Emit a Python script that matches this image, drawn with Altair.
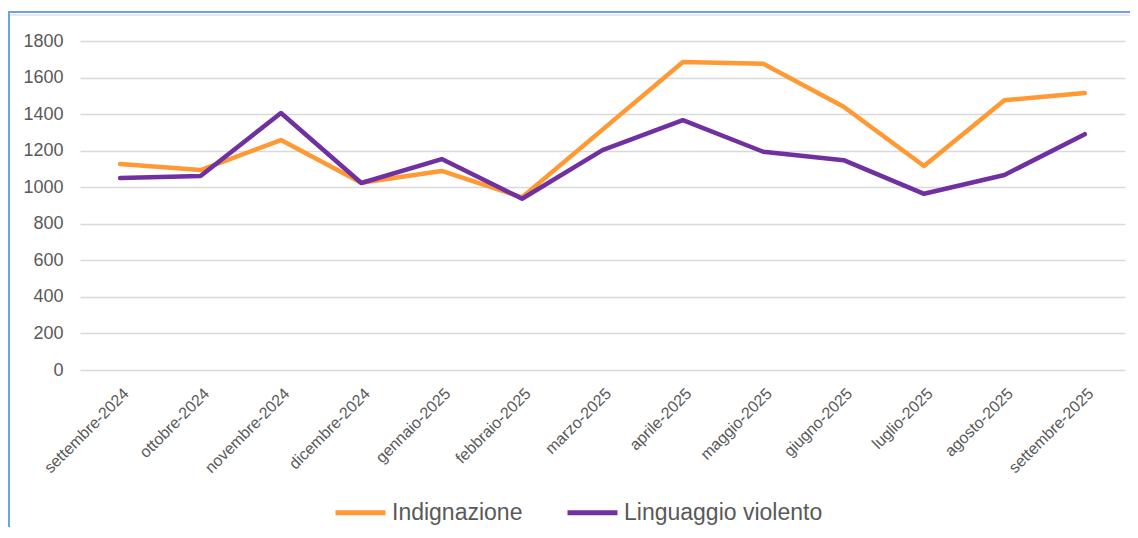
import altair as alt
import pandas as pd

months = ["settembre-2024", "ottobre-2024", "novembre-2024", "dicembre-2024",
          "gennaio-2025", "febbraio-2025", "marzo-2025", "aprile-2025",
          "maggio-2025", "giugno-2025", "luglio-2025", "agosto-2025",
          "settembre-2025"]
indignazione = [1127, 1094, 1258, 1025, 1089, 945, 1315, 1685, 1676, 1440, 1116, 1476, 1515]
linguaggio = [1050, 1061, 1406, 1023, 1154, 937, 1203, 1367, 1194, 1148, 964, 1067, 1290]
series = ["Indignazione", "Linguaggio violento"]
colors = ["#FF9933", "#7030A0"]

rows = []
for m, a, b in zip(months, indignazione, linguaggio):
    rows.append({"mese": m, "serie": series[0], "valore": a})
    rows.append({"mese": m, "serie": series[1], "valore": b})
df = pd.DataFrame(rows)

lines = alt.Chart(df).mark_line(strokeWidth=4.5, strokeCap="round", strokeJoin="round").encode(
    x=alt.X("mese:N", sort=months, title=None,
            axis=alt.Axis(labelAngle=-45, labelFontSize=16, labelColor="#595959",
                          labelFont="Liberation Sans", domain=False, ticks=False,
                          grid=False, labelPadding=15)),
    y=alt.Y("valore:Q", title=None, scale=alt.Scale(domain=[0, 1800], nice=False),
            axis=alt.Axis(values=list(range(0, 1801, 200)), format="d", labelFontSize=18,
                          labelColor="#595959", labelFont="Liberation Sans",
                          domain=False, ticks=False, labelPadding=17,
                          gridColor="#D9D9D9", gridWidth=1.5)),
    color=alt.Color("serie:N", scale=alt.Scale(domain=series, range=colors),
                    legend=alt.Legend(title=None, orient="none", direction="horizontal",
                                      legendX=253, legendY=444, symbolType="stroke",
                                      symbolSize=2500, symbolStrokeWidth=5,
                                      labelFontSize=23, labelColor="#595959",
                                      labelFont="Liberation Sans", labelOffset=4,
                                      labelLimit=0, columnPadding=34, padding=0)),
)

frame_left = alt.Chart(df).mark_rule(color="#6FA3E0", strokeWidth=2).encode(
    x=alt.value(-71), y=alt.value(-29), y2=alt.value(500))
frame_top = alt.Chart(df).mark_rule(color="#6FA3E0", strokeWidth=2).encode(
    x=alt.value(-72), x2=alt.value(1070), y=alt.value(-29))
frame_top2 = alt.Chart(df).mark_rule(color="#E8E8E8", strokeWidth=2).encode(
    x=alt.value(-70), x2=alt.value(1070), y=alt.value(-26))

chart = alt.layer(frame_left, frame_top, frame_top2, lines).properties(
    width=1045, height=329,
    autosize=alt.AutoSizeParams(type="none"),
    padding={"left": 72, "top": 33, "right": 5, "bottom": 157},
).configure(background="white").configure_view(stroke=None, strokeWidth=0)

chart.save("out.html", embed_options={"renderer": "svg", "actions": False})
